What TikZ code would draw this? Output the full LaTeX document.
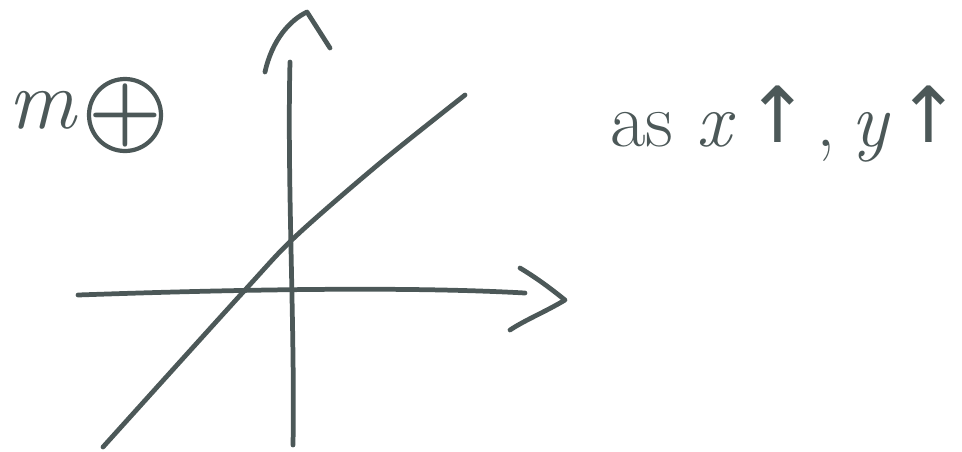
\documentclass[tikz,border=0pt]{standalone}
\usepackage{fontspec}
\usepackage{xcolor}
\usepackage{tikz}
\usetikzlibrary{calc}
\newfontfamily\arrowfont{DejaVu Sans}
\definecolor{inkgrey}{RGB}{76, 88, 88}
\newcommand{\uparr}{\raisebox{0.04em}{\arrowfont\fontsize{44}{48}\selectfont ↑}}

\begin{document}
\begin{tikzpicture}[
    x=0.02cm, y=-0.02cm,
    pen/.style={draw=inkgrey, line width=2.7pt, line cap=round, line join=round},
    chevron/.style={pen},
    scribble/.style={text=inkgrey, inner sep=0pt, font=\fontsize{44}{50}\selectfont},
]
\useasboundingbox (0,0) rectangle (962,451);

% ============================================================
% AXES
% ============================================================
\coordinate (yfoot) at (293,445);
\coordinate (ytop)  at (290,62);
\coordinate (xleft) at (78,295);
\coordinate (xright) at (525,293);

\draw[pen] (yfoot) .. controls (295,330) and (287,180) .. (ytop);
\draw[pen] (xleft) .. controls (220,290) and (400,286) .. (xright);

% open arrow heads
\draw[chevron] (265,72) .. controls (272,40) and (290,20) .. (307,12) -- (330,48);
\draw[chevron] (520,268) .. controls (540,280) and (555,292) .. (565,300)
               .. controls (545,312) and (525,320) .. (510,330);

% ============================================================
% LINE
% ============================================================
\draw[pen] plot[smooth] coordinates {(103,447) (245,290) (296,236) (380,163) (465,95)};

% ============================================================
% LABELS
% ============================================================
\node[scribble, anchor=base west, font=\fontsize{48}{52}\selectfont\itshape] (slope) at (8,128) {m};
\node[pen, circle, minimum size=72*0.02cm, inner sep=0pt,
      line width=2.4pt] (sign) at (125,115) {};
\node[scribble, font=\fontsize{48}{52}\selectfont\bfseries] at (sign) {+};

\node[scribble, anchor=base west] (claim) at (610,146)
    {as \textit{x}\hspace{0.12em}\uparr\hspace{0.08em},\hspace{0.2em}\textit{y}\hspace{0.08em}\uparr};

\end{tikzpicture}
\end{document}
